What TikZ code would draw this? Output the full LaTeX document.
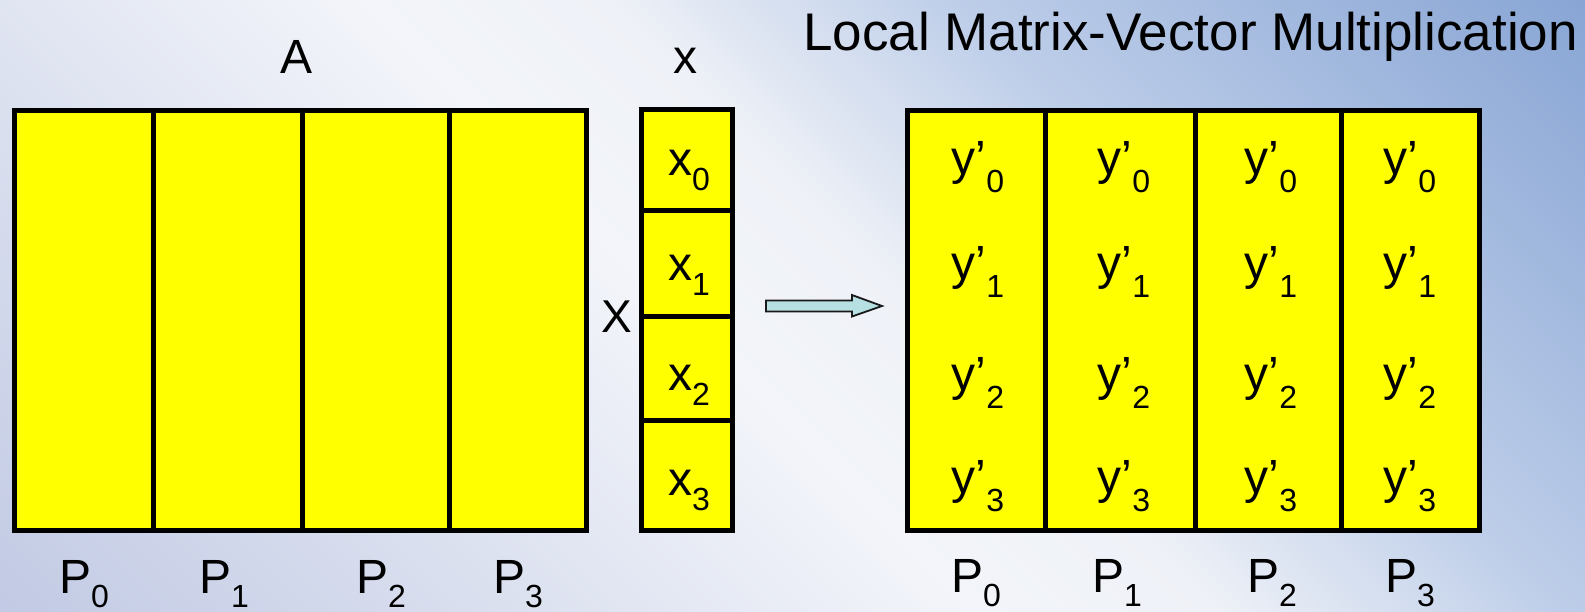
\documentclass[tikz,border=0pt]{standalone}
\usepackage{fontspec}
\setmainfont{Liberation Sans}
\usetikzlibrary{calc}
\definecolor{bgA}{RGB}{172,183,220}
\definecolor{bgB}{RGB}{205,212,233}
\definecolor{bgC}{RGB}{243,245,250}
\definecolor{bgD}{RGB}{238,241,247}
\definecolor{bgE}{RGB}{190,206,233}
\definecolor{bgF}{RGB}{145,172,216}
\definecolor{bgG}{RGB}{100,136,196}
\definecolor{boxyellow}{RGB}{255,255,0}
\definecolor{arrowfill}{RGB}{183,224,226}
\pgfdeclarehorizontalshading{bgsh}{100bp}{color(0bp)=(bgA); color(22bp)=(bgB); color(46bp)=(bgC); color(54bp)=(bgD); color(65bp)=(bgE); color(82bp)=(bgF); color(100bp)=(bgG)}
\newcommand{\subl}[2]{\raisebox{-#1pt}{\fontsize{32pt}{32pt}\selectfont #2}}
\tikzset{
  colbox/.style={draw=black, fill=boxyellow, line width=5pt, inner sep=0pt, outer sep=0pt},
  lbl/.style={anchor=base, inner sep=0pt, font=\fontsize{48pt}{48pt}\selectfont},
  ttl/.style={anchor=base west, inner sep=0pt, font=\fontsize{53pt}{53pt}\selectfont},
  blockarrow/.style={draw=black!90, line width=1.8pt, fill=arrowfill, line join=miter}
}
\begin{document}
\begin{tikzpicture}[x=1pt,y=-1pt]
\useasboundingbox (0,0) rectangle (1585,611);
\shade[shading=bgsh, shading angle=45] (0,0) rectangle (1585,611);

% title and labels
\node[ttl] (title) at (803,50) {Local Matrix-Vector Multiplication};
\node[lbl] (lA) at (297,73) {A};
\node[lbl] (lx) at (685,73) {x};
\node[lbl, font=\fontsize{46pt}{46pt}\selectfont] (times) at (617,332) {X};

% matrix A
\node[colbox, minimum width=139pt, minimum height=420pt] (A0) at (84,320.5) {};
\node[colbox, minimum width=149pt, minimum height=420pt] (A1) at (228,320.5) {};
\node[colbox, minimum width=146.5pt, minimum height=420pt] (A2) at (375.75,320.5) {};
\node[colbox, minimum width=137.5pt, minimum height=420pt] (A3) at (517.75,320.5) {};
\draw[line width=5pt] (A3.north west) -- ++(0,3);

% vector x
\node[colbox, minimum width=91.5pt, minimum height=101pt] (xc0) at (686.75,159.5) {};
\node[colbox, minimum width=91.5pt, minimum height=106pt] (xc1) at (686.75,263) {};
\node[colbox, minimum width=91.5pt, minimum height=104pt] (xc2) at (686.75,368) {};
\node[colbox, minimum width=91.5pt, minimum height=110.5pt] (xc3) at (686.75,475.25) {};
\node[lbl] (x0) at (689,175) {x\subl{15}{0}};
\node[lbl] (x1) at (689,280) {x\subl{15}{1}};
\node[lbl] (x2) at (689,390) {x\subl{15}{2}};
\node[lbl] (x3) at (689,495) {x\subl{15}{3}};

% arrow
\coordinate (arr) at (766,306);
\draw[blockarrow] ($(arr)+(0,-5.5)$) -- ++(86,0) -- ++(0,-5.5) -- ($(arr)+(116,0)$)
  -- ($(arr)+(86,10.5)$) -- ++(0,-5) -- ($(arr)+(0,5.5)$) -- cycle;

% result matrix
\node[colbox, minimum width=137.5pt, minimum height=420pt] (Y0) at (976.25,320.5) {};
\node[colbox, minimum width=150pt, minimum height=420pt] (Y1) at (1120,320.5) {};
\node[colbox, minimum width=146pt, minimum height=420pt] (Y2) at (1268,320.5) {};
\node[colbox, minimum width=138.5pt, minimum height=420pt] (Y3) at (1410.25,320.5) {};
\draw[line width=5pt] (Y3.north west) -- ++(0,3);

\foreach \r/\yb in {0/174,1/279,2/390,3/493}{
  \foreach \c/\xc in {0/978,1/1124,2/1271,3/1410}{
    \node[lbl] (y\c\r) at (\xc,\yb) {y’\subl{18}{\r}};
  }
}

% processor labels
\foreach \c/\xc in {0/84,1/224,2/381,3/518}{
  \node[lbl] (PA\c) at (\xc,593) {P\subl{14}{\c}};
}
\foreach \c/\xc in {0/976,1/1117,2/1272,3/1410}{
  \node[lbl] (PY\c) at (\xc,592) {P\subl{14}{\c}};
}
\end{tikzpicture}
\end{document}
